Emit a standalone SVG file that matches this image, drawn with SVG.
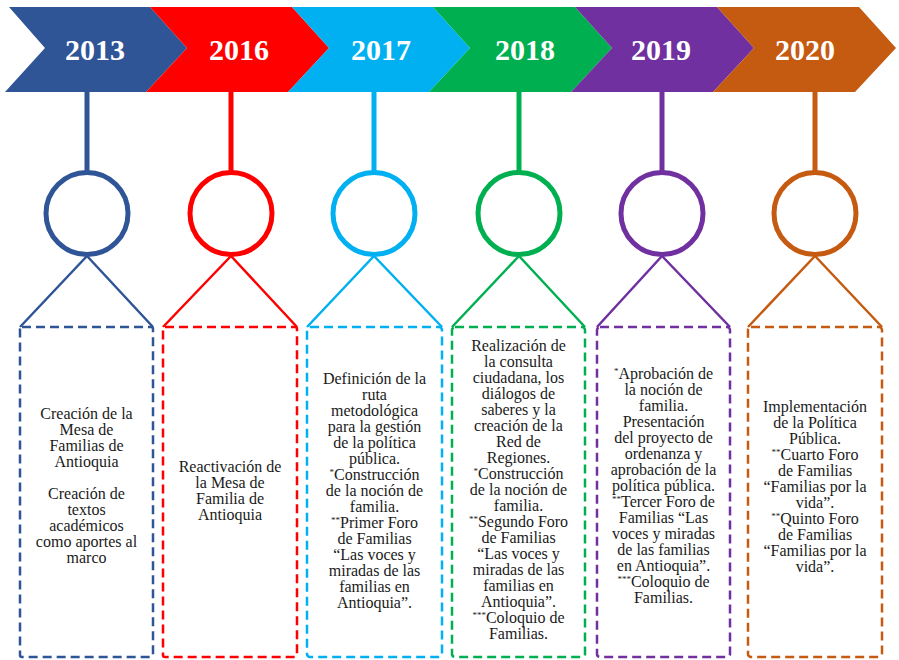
<svg xmlns="http://www.w3.org/2000/svg" width="899" height="660" viewBox="0 0 899 660">
<style>
.yr{font-weight:bold;font-size:30px;fill:#ffffff;text-anchor:middle}
.tx{font-size:16px;fill:#1a1a1a;text-anchor:middle}
.sup{font-size:9px;baseline-shift:super}
.stem{stroke-width:5;fill:none}
.ring{stroke-width:5;fill:#ffffff}
.leg{stroke-width:2.5;fill:none}
.box{stroke-width:2.5;fill:#ffffff;stroke-dasharray:9 5}
.c1{stroke:#2F5597}.c2{stroke:#FF0000}.c3{stroke:#00B0F0}.c4{stroke:#00B050}.c5{stroke:#7030A0}.c6{stroke:#C55A11}
</style>
<rect width="899" height="660" fill="#ffffff"/>
<g id="chevrons">
<polygon fill="#2F5597" points="9,7 150,7 187,48 146,92 5,92 45,48"/>
<polygon fill="#FF0000" points="150,7 292,7 329,48 288,92 146,92 187,48"/>
<polygon fill="#00B0F0" points="292,7 433,7 470,48 429,92 288,92 329,48"/>
<polygon fill="#00B050" points="433,7 575,7 612,48 571,92 429,92 470,48"/>
<polygon fill="#7030A0" points="575,7 717,7 754,48 713,92 571,92 612,48"/>
<polygon fill="#C55A11" points="717,7 859,7 896,48 855,92 713,92 754,48"/>
<g font-family="Liberation Serif, serif">
<text class="yr" x="95" y="60">2013</text>
<text class="yr" x="239" y="60">2016</text>
<text class="yr" x="381" y="60">2017</text>
<text class="yr" x="525" y="60">2018</text>
<text class="yr" x="661" y="60">2019</text>
<text class="yr" x="805" y="60">2020</text>
</g>
</g>
<g id="connectors">
<line class="stem c1" x1="87" y1="92" x2="87" y2="173"/>
<line class="stem c2" x1="231" y1="92" x2="231" y2="173"/>
<line class="stem c3" x1="374" y1="92" x2="374" y2="173"/>
<line class="stem c4" x1="519" y1="92" x2="519" y2="173"/>
<line class="stem c5" x1="662" y1="92" x2="662" y2="173"/>
<line class="stem c6" x1="815" y1="92" x2="815" y2="173"/>
<polyline class="leg c1" points="20,327 87,256 153,327"/>
<polyline class="leg c2" points="163,327 231,256 297,327"/>
<polyline class="leg c3" points="307,327 374,256 442,327"/>
<polyline class="leg c4" points="452,327 519,256 585,327"/>
<polyline class="leg c5" points="597,327 662,256 730,327"/>
<polyline class="leg c6" points="748,327 815,256 882,327"/>
</g>
<g id="node-2013" font-family="Liberation Serif, serif">
<circle class="ring c1" cx="87" cy="213.5" r="41"/>
<rect class="box c1" x="20" y="327" width="133" height="330" rx="2"/>
<text class="tx" y="419"><tspan x="86.5">Creación de la</tspan><tspan x="86.5" dy="16">Mesa de</tspan><tspan x="86.5" dy="16">Familias de</tspan><tspan x="86.5" dy="16">Antioquia</tspan><tspan x="86.5" dy="32">Creación de</tspan><tspan x="86.5" dy="16">textos</tspan><tspan x="86.5" dy="16">académicos</tspan><tspan x="86.5" dy="16">como aportes al</tspan><tspan x="86.5" dy="16">marco</tspan></text>
</g>
<g id="node-2016" font-family="Liberation Serif, serif">
<circle class="ring c2" cx="231" cy="213.5" r="41"/>
<rect class="box c2" x="163" y="327" width="134" height="330" rx="2"/>
<text class="tx" y="472"><tspan x="230">Reactivación de</tspan><tspan x="230" dy="16">la Mesa de</tspan><tspan x="230" dy="16">Familia de</tspan><tspan x="230" dy="16">Antioquia</tspan></text>
</g>
<g id="node-2017" font-family="Liberation Serif, serif">
<circle class="ring c3" cx="374" cy="213.5" r="41"/>
<rect class="box c3" x="307" y="327" width="135" height="330" rx="3"/>
<text class="tx" y="384"><tspan x="374.5">Definición de la</tspan><tspan x="374.5" dy="16">ruta</tspan><tspan x="374.5" dy="16">metodológica</tspan><tspan x="374.5" dy="16">para la gestión</tspan><tspan x="374.5" dy="16">de la política</tspan><tspan x="374.5" dy="16">pública.</tspan><tspan x="374.5" dy="16"><tspan class="sup">*</tspan>Construcción</tspan><tspan x="374.5" dy="16">de la noción de</tspan><tspan x="374.5" dy="16">familia.</tspan><tspan x="374.5" dy="16"><tspan class="sup">**</tspan>Primer Foro</tspan><tspan x="374.5" dy="16">de Familias</tspan><tspan x="374.5" dy="16">“Las voces y</tspan><tspan x="374.5" dy="16">miradas de las</tspan><tspan x="374.5" dy="16">familias en</tspan><tspan x="374.5" dy="16">Antioquia”.</tspan></text>
</g>
<g id="node-2018" font-family="Liberation Serif, serif">
<circle class="ring c4" cx="519" cy="213.5" r="41"/>
<rect class="box c4" x="452" y="327" width="133" height="330" rx="3"/>
<text class="tx" y="351"><tspan x="518.5">Realización de</tspan><tspan x="518.5" dy="16">la consulta</tspan><tspan x="518.5" dy="16">ciudadana, los</tspan><tspan x="518.5" dy="16">diálogos de</tspan><tspan x="518.5" dy="16">saberes y la</tspan><tspan x="518.5" dy="16">creación de la</tspan><tspan x="518.5" dy="16">Red de</tspan><tspan x="518.5" dy="16">Regiones.</tspan><tspan x="518.5" dy="16"><tspan class="sup">*</tspan>Construcción</tspan><tspan x="518.5" dy="16">de la noción de</tspan><tspan x="518.5" dy="16">familia.</tspan><tspan x="518.5" dy="16"><tspan class="sup">**</tspan>Segundo Foro</tspan><tspan x="518.5" dy="16">de Familias</tspan><tspan x="518.5" dy="16">“Las voces y</tspan><tspan x="518.5" dy="16">miradas de las</tspan><tspan x="518.5" dy="16">familias en</tspan><tspan x="518.5" dy="16">Antioquia”.</tspan><tspan x="518.5" dy="16"><tspan class="sup">***</tspan>Coloquio de</tspan><tspan x="518.5" dy="16">Familias.</tspan></text>
</g>
<g id="node-2019" font-family="Liberation Serif, serif">
<circle class="ring c5" cx="662" cy="213.5" r="41"/>
<rect class="box c5" x="597" y="327" width="133" height="330" rx="3"/>
<text class="tx" y="379"><tspan x="663.5"><tspan class="sup">*</tspan>Aprobación de</tspan><tspan x="663.5" dy="16">la noción de</tspan><tspan x="663.5" dy="16">familia.</tspan><tspan x="663.5" dy="16">Presentación</tspan><tspan x="663.5" dy="16">del proyecto de</tspan><tspan x="663.5" dy="16">ordenanza y</tspan><tspan x="663.5" dy="16">aprobación de la</tspan><tspan x="663.5" dy="16">política pública.</tspan><tspan x="663.5" dy="16"><tspan class="sup">**</tspan>Tercer Foro de</tspan><tspan x="663.5" dy="16">Familias “Las</tspan><tspan x="663.5" dy="16">voces y miradas</tspan><tspan x="663.5" dy="16">de las familias</tspan><tspan x="663.5" dy="16">en Antioquia”.</tspan><tspan x="663.5" dy="16"><tspan class="sup">***</tspan>Coloquio de</tspan><tspan x="663.5" dy="16">Familias.</tspan></text>
</g>
<g id="node-2020" font-family="Liberation Serif, serif">
<circle class="ring c6" cx="815" cy="213.5" r="41"/>
<rect class="box c6" x="748" y="327" width="134" height="330" rx="3"/>
<text class="tx" y="412"><tspan x="815">Implementación</tspan><tspan x="815" dy="16">de la Política</tspan><tspan x="815" dy="16">Pública.</tspan><tspan x="815" dy="16"><tspan class="sup">**</tspan>Cuarto Foro</tspan><tspan x="815" dy="16">de Familias</tspan><tspan x="815" dy="16">“Familias por la</tspan><tspan x="815" dy="16">vida”.</tspan><tspan x="815" dy="16"><tspan class="sup">**</tspan>Quinto Foro</tspan><tspan x="815" dy="16">de Familias</tspan><tspan x="815" dy="16">“Familias por la</tspan><tspan x="815" dy="16">vida”.</tspan></text>
</g>
</svg>
